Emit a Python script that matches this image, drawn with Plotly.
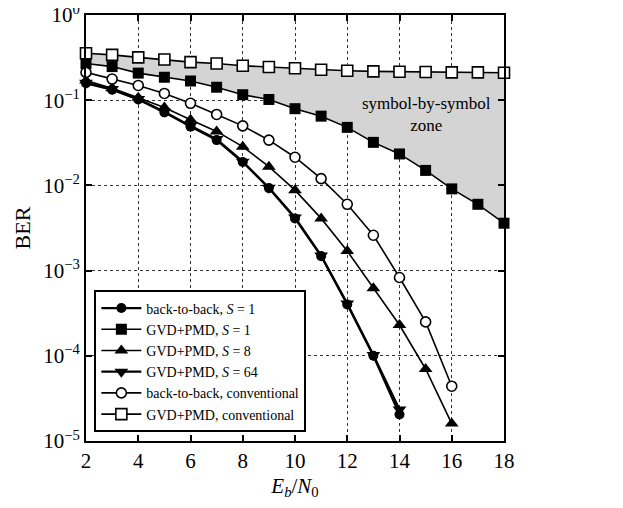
import plotly.graph_objects as go

eb_n0 = list(range(2, 19))

# GVD+PMD, conventional (open squares), x=2..18
gvd_conv = [0.355, 0.34, 0.318, 0.30, 0.28, 0.27, 0.254, 0.245, 0.237, 0.228,
            0.222, 0.218, 0.216, 0.214, 0.212, 0.212, 0.21]
# GVD+PMD, S=1 (filled squares), x=2..18
gvd_s1 = [0.27, 0.248, 0.208, 0.186, 0.168, 0.142, 0.116, 0.102, 0.0795, 0.065,
          0.048, 0.032, 0.0234, 0.015, 0.0091, 0.006, 0.0036]
# back-to-back, conventional (open circles), x=2..16
b2b_conv = [0.212, 0.177, 0.149, 0.12, 0.092, 0.068, 0.050, 0.034, 0.0214,
            0.012, 0.006, 0.0026, 8.3e-4, 2.5e-4, 4.4e-5]
# GVD+PMD, S=8 (triangle up), x=2..16
gvd_s8 = [0.17, 0.138, 0.107, 0.082, 0.059, 0.043, 0.0285, 0.0166, 0.0088,
          0.0041, 0.0017, 6.2e-4, 2.3e-4, 7.0e-5, 1.6e-5]
# GVD+PMD, S=64 (triangle down), x=2..14
gvd_s64 = [0.16, 0.135, 0.103, 0.073, 0.05, 0.035, 0.019, 0.0094, 0.0042,
           0.0015, 4.1e-4, 1.02e-4, 2.35e-5]
# back-to-back, S=1 (filled circles), x=2..14
b2b_s1 = [0.158, 0.133, 0.102, 0.072, 0.049, 0.034, 0.0188, 0.0093, 0.0041,
          0.00148, 4.0e-4, 1.0e-4, 2.05e-5]

ytick_vals = [1, 0.1, 0.01, 0.001, 1e-4, 1e-5]
ytick_text = ["10<sup>0</sup>", "10<sup>−1</sup>", "10<sup>−2</sup>",
              "10<sup>−3</sup>", "10<sup>−4</sup>", "10<sup>−5</sup>"]
xtick_vals = [2, 4, 6, 8, 10, 12, 14, 16, 18]

FONT = "Liberation Serif, Times New Roman, serif"

fig = go.Figure()

# shaded "symbol-by-symbol zone" between the two GVD+PMD curves
fig.add_trace(go.Scatter(x=eb_n0, y=gvd_conv, mode="lines",
                         line=dict(width=0, color="rgba(0,0,0,0)"),
                         showlegend=False, hoverinfo="skip"))
fig.add_trace(go.Scatter(x=eb_n0, y=gvd_s1, mode="lines",
                         line=dict(width=0, color="rgba(0,0,0,0)"),
                         fill="tonexty", fillcolor="#d4d4d4",
                         showlegend=False, hoverinfo="skip"))


def add(xs, ys, name, symbol, filled, width=1.6, size=10):
    fig.add_trace(go.Scatter(
        x=xs, y=ys, name=name, mode="lines+markers", cliponaxis=False,
        line=dict(color="black", width=width),
        marker=dict(symbol=symbol, size=size,
                    color="black" if filled else "white",
                    line=dict(color="black", width=1.6 if not filled else 0)),
    ))


add(eb_n0[:len(b2b_s1)], b2b_s1, "back-to-back, <i>S</i> = 1", "circle", True, width=2.2)
add(eb_n0[:len(gvd_s1)], gvd_s1, "GVD+PMD, <i>S</i> = 1", "square", True, size=11)
add(eb_n0[:len(gvd_s8)], gvd_s8, "GVD+PMD, <i>S</i> = 8", "triangle-up", True, size=12)
add(eb_n0[:len(gvd_s64)], gvd_s64, "GVD+PMD, <i>S</i> = 64", "triangle-down", True, width=2.2, size=12)
add(eb_n0[:len(b2b_conv)], b2b_conv, "back-to-back, conventional", "circle", False)
add(eb_n0[:len(gvd_conv)], gvd_conv, "GVD+PMD, conventional", "square", False, size=11)

fig.add_annotation(x=15.05, y=-1.17, xref="x", yref="y",
                   text="symbol-by-symbol<br>zone", showarrow=False,
                   font=dict(family=FONT, size=17, color="black"))

fig.update_layout(
    width=623, height=508,
    margin=dict(l=78, r=127, t=7, b=75),
    paper_bgcolor="white", plot_bgcolor="white",
    font=dict(family=FONT, color="black", size=20),
    legend=dict(x=0.02, y=0.02, xanchor="left", yanchor="bottom",
                bgcolor="white", bordercolor="black", borderwidth=2,
                font=dict(family=FONT, size=14), tracegroupgap=0,
                traceorder="normal", itemwidth=40),
)
fig.update_xaxes(range=[2, 18], tickvals=xtick_vals, showline=True,
                 linecolor="black", linewidth=2, mirror="ticks",
                 ticks="inside", ticklen=6, tickwidth=1.5, tickcolor="black",
                 showgrid=True, gridcolor="#333333", griddash="dot", gridwidth=1,
                 zeroline=False, tickfont=dict(size=21), automargin=False,
                 ticklabeloverflow="allow",
                 title=dict(text="<i>E<sub>b</sub></i>/<i>N</i><sub>0</sub>",
                            font=dict(size=21), standoff=6))
fig.update_yaxes(type="log", range=[-5, 0], tickvals=ytick_vals,
                 ticktext=ytick_text, showline=True, linecolor="black",
                 linewidth=2, mirror="ticks", ticks="inside", ticklen=6,
                 tickwidth=1.5, tickcolor="black", showgrid=True,
                 gridcolor="#333333", griddash="dot", gridwidth=1,
                 zeroline=False, tickfont=dict(size=21), automargin=False,
                 ticklabeloverflow="allow",
                 title=dict(text="BER", font=dict(size=22), standoff=6))

fig.write_html("out.html")
